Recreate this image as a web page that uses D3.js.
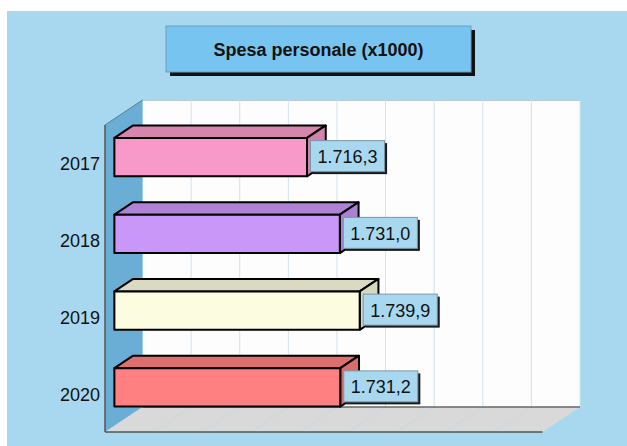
<!DOCTYPE html>
<html>
<head>
<meta charset="utf-8">
<script src="https://cdn.jsdelivr.net/npm/d3@7"></script>
<style>
  html, body { margin: 0; padding: 0; background: #ffffff; }
  svg { display: block; }
  text { font-family: "Liberation Sans", Arial, Helvetica, sans-serif; }
</style>
</head>
<body>
<svg id="chart" width="627" height="446"></svg>
<script>
// Spesa personale per anno (migliaia)
const years = ["2017", "2018", "2019", "2020"];
const values = [1716.3, 1731.0, 1739.9, 1731.2];
const barColors = ["#f799c9", "#c997f7", "#fcfce1", "#ff8080"];
const titleText = "Spesa personale (x1000)";
const valueDomain = [1630, 1826];
const gridIntervals = 9;

const it = d3.formatLocale({ decimal: ",", thousands: ".", grouping: [3], currency: ["€", ""] });
const fmt = it.format(",.1f");

const svg = d3.select("#chart");

// background panel
svg.append("rect").attr("x", 7).attr("y", 11).attr("width", 620).attr("height", 435).attr("fill", "#a8d8ef");

// title box with drop shadow
const tb = { x: 166, y: 26, w: 305, h: 46 };
svg.append("rect").attr("x", tb.x + 4).attr("y", tb.y + 4).attr("width", tb.w).attr("height", tb.h).attr("fill", "#111");
svg.append("rect").attr("x", tb.x).attr("y", tb.y).attr("width", tb.w).attr("height", tb.h)
  .attr("fill", "#78c4f0").attr("stroke", "#6a9fc2").attr("stroke-width", 1);
svg.append("text").attr("x", tb.x + tb.w / 2).attr("y", tb.y + tb.h / 2 + 1)
  .attr("text-anchor", "middle").attr("dominant-baseline", "central")
  .attr("font-size", 18).attr("font-weight", "bold").attr("fill", "#111").text(titleText);

// 3D frame geometry
const front = { left: 105, right: 542.5, top: 125, bottom: 432 };
const depth = { dx: 37.5, dy: -25 };

const x = d3.scaleLinear().domain(valueDomain).range([front.left, front.right]);
const y = d3.scaleBand().domain(years).range([front.top, front.bottom]).paddingInner(0.5).paddingOuter(0.25);

const gridValues = d3.range(gridIntervals + 1).map(i => valueDomain[0] + i * (valueDomain[1] - valueDomain[0]) / gridIntervals);

const pts = a => a.map(p => p.join(",")).join(" ");

// back wall
svg.append("rect")
  .attr("x", front.left + depth.dx).attr("y", front.top + depth.dy)
  .attr("width", front.right - front.left).attr("height", front.bottom - front.top)
  .attr("fill", "#fdfdfd");
svg.append("line")
  .attr("x1", front.left + depth.dx).attr("x2", front.right + depth.dx)
  .attr("y1", front.top + depth.dy + 0.5).attr("y2", front.top + depth.dy + 0.5)
  .attr("stroke", "#b9c9d3").attr("stroke-width", 1);

// vertical gridlines on the back wall
svg.append("g").selectAll("line").data(gridValues.slice(1)).join("line")
  .attr("x1", d => x(d) + depth.dx).attr("x2", d => x(d) + depth.dx)
  .attr("y1", front.top + depth.dy).attr("y2", front.bottom + depth.dy)
  .attr("stroke", "#cfe3ef").attr("stroke-width", 1);

// left wall
svg.append("polygon")
  .attr("points", pts([
    [front.left, front.top], [front.left + depth.dx, front.top + depth.dy],
    [front.left + depth.dx, front.bottom + depth.dy], [front.left, front.bottom]]))
  .attr("fill", "#6aaed6");
svg.append("line")
  .attr("x1", front.left).attr("y1", front.top)
  .attr("x2", front.left + depth.dx).attr("y2", front.top + depth.dy)
  .attr("stroke", "#5a7f99").attr("stroke-width", 1);

// floor
svg.append("polygon")
  .attr("points", pts([
    [front.left, front.bottom], [front.right, front.bottom],
    [front.right + depth.dx, front.bottom + depth.dy], [front.left + depth.dx, front.bottom + depth.dy]]))
  .attr("fill", "#d9d9d9");
svg.append("g").selectAll("line").data(gridValues.slice(1, -1)).join("line")
  .attr("x1", d => x(d)).attr("y1", front.bottom)
  .attr("x2", d => x(d) + depth.dx).attr("y2", front.bottom + depth.dy)
  .attr("stroke", "#c6d9e4").attr("stroke-width", 1);
svg.append("line")
  .attr("x1", front.left + depth.dx).attr("x2", front.right + depth.dx)
  .attr("y1", front.bottom + depth.dy).attr("y2", front.bottom + depth.dy)
  .attr("stroke", "#666").attr("stroke-width", 1.5);

// front axis lines
svg.append("line")
  .attr("x1", front.left).attr("x2", front.right)
  .attr("y1", front.bottom).attr("y2", front.bottom)
  .attr("stroke", "#555").attr("stroke-width", 1.5);
svg.append("line")
  .attr("x1", front.left).attr("x2", front.left)
  .attr("y1", front.top).attr("y2", front.bottom)
  .attr("stroke", "#555").attr("stroke-width", 1.5);

// category labels
svg.append("g").selectAll("text").data(years).join("text")
  .attr("x", front.left - 5).attr("y", d => y(d) + y.bandwidth() / 2 + 1)
  .attr("text-anchor", "end").attr("dominant-baseline", "central")
  .attr("font-size", 18).attr("fill", "#111").text(d => d);

// bars: front face at 1/4 depth, back face at 3/4 depth
const z0 = 0.25, z1 = 0.75;
const bx = (z1 - z0) * depth.dx, by = (z1 - z0) * depth.dy;
const rows = years.map((yr, i) => {
  const x0 = x(valueDomain[0]) + z0 * depth.dx;
  const x1 = x(values[i]) + z0 * depth.dx;
  const y0 = y(yr) + z0 * depth.dy;
  const y1 = y0 + y.bandwidth();
  return { yr, v: values[i], c: barColors[i], x0, x1, y0, y1 };
});

const bars = svg.append("g").selectAll("g").data(rows).join("g")
  .attr("stroke", "#000").attr("stroke-width", 2).attr("stroke-linejoin", "round");
bars.append("polygon")
  .attr("points", d => pts([[d.x0, d.y0], [d.x1, d.y0], [d.x1 + bx, d.y0 + by], [d.x0 + bx, d.y0 + by]]))
  .attr("fill", d => d3.color(d.c).darker(0.4));
bars.append("polygon")
  .attr("points", d => pts([[d.x1, d.y0], [d.x1 + bx, d.y0 + by], [d.x1 + bx, d.y1 + by], [d.x1, d.y1]]))
  .attr("fill", d => d3.color(d.c).darker(0.45));
bars.append("rect")
  .attr("x", d => d.x0).attr("y", d => d.y0)
  .attr("width", d => d.x1 - d.x0).attr("height", d => d.y1 - d.y0)
  .attr("fill", d => d.c);

// value labels
const lab = svg.append("g").selectAll("g").data(rows).join("g");
const boxH = 31;
lab.each(function (d) {
  const g = d3.select(this);
  const bxl = d.x1 + 3.5;
  const cy = (d.y0 + d.y1) / 2 - 1;
  const t = g.append("text").attr("font-size", 18).attr("fill", "#111")
    .attr("text-anchor", "middle").attr("dominant-baseline", "central").text(fmt(d.v));
  const w = t.node().getComputedTextLength() + 14;
  g.insert("rect", "text").attr("x", bxl + 2.5).attr("y", cy - boxH / 2 + 2.5)
    .attr("width", w).attr("height", boxH).attr("fill", "#1a1a1a");
  g.insert("rect", "text").attr("x", bxl).attr("y", cy - boxH / 2)
    .attr("width", w).attr("height", boxH)
    .attr("fill", "#a8d8f0").attr("stroke", "#7d95a6").attr("stroke-width", 1);
  t.attr("x", bxl + w / 2).attr("y", cy + 1);
});
</script>
</body>
</html>
